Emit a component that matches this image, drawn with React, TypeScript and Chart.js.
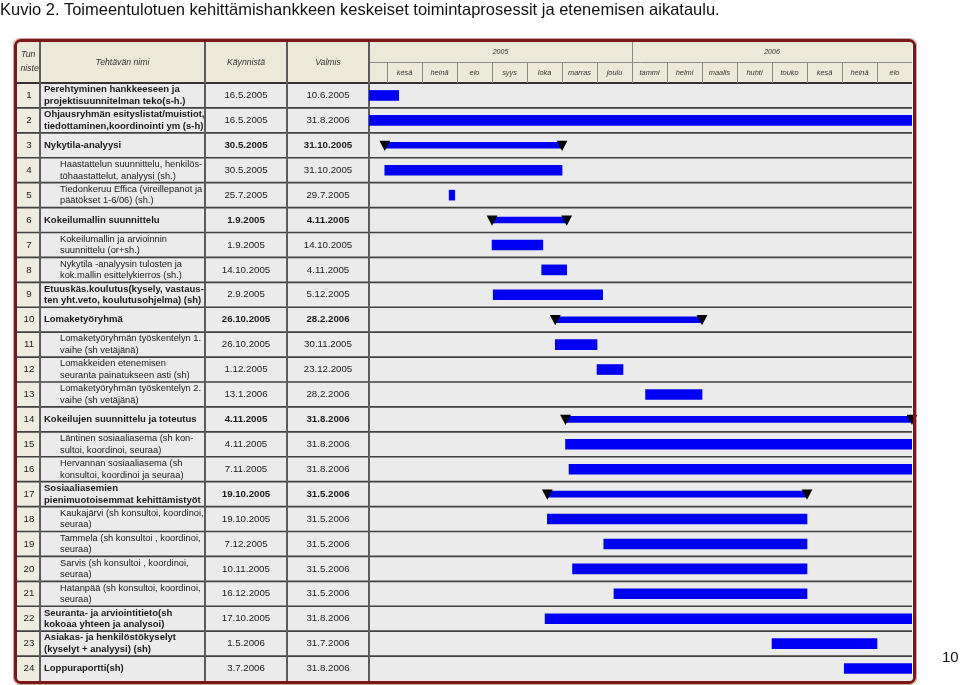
import React, { useEffect, useRef } from "react";
import { Chart, registerables } from "chart.js";

Chart.register(...registerables);

const FONT = '"Liberation Sans", Arial, Helvetica, sans-serif';

const titleText =
  "Kuvio 2. Toimeentulotuen kehittämishankkeen keskeiset toimintaprosessit ja etenemisen aikataulu.";
const pageNumber = "10";

const taskIds = [
  "1", "2", "3", "4", "5", "6", "7", "8", "9", "10", "11", "12",
  "13", "14", "15", "16", "17", "18", "19", "20", "21", "22", "23", "24",
];

const taskNames: string[][] = [
  ["Perehtyminen hankkeeseen ja", "projektisuunnitelman teko(s-h.)"],
  ["Ohjausryhmän esityslistat/muistiot,", "tiedottaminen,koordinointi ym (s-h)"],
  ["Nykytila-analyysi"],
  ["Haastattelun suunnittelu, henkilös-", "töhaastattelut, analyysi (sh.)"],
  ["Tiedonkeruu Effica (vireillepanot ja", "päätökset 1-6/06) (sh.)"],
  ["Kokeilumallin suunnittelu"],
  ["Kokeilumallin ja arvioinnin", "suunnittelu (or+sh.)"],
  ["Nykytila -analyysin tulosten ja", "kok.mallin esittelykierros (sh.)"],
  ["Etuuskäs.koulutus(kysely, vastaus-", "ten yht.veto, koulutusohjelma) (sh)"],
  ["Lomaketyöryhmä"],
  ["Lomaketyöryhmän työskentelyn 1.", "vaihe (sh vetäjänä)"],
  ["Lomakkeiden etenemisen", "seuranta painatukseen asti (sh)"],
  ["Lomaketyöryhmän työskentelyn 2.", "vaihe (sh vetäjänä)"],
  ["Kokeilujen suunnittelu ja toteutus"],
  ["Läntinen sosiaaliasema (sh kon-", "sultoi, koordinoi, seuraa)"],
  ["Hervannan sosiaaliasema (sh", "konsultoi, koordinoi ja seuraa)"],
  ["Sosiaaliasemien", "pienimuotoisemmat kehittämistyöt"],
  ["Kaukajärvi (sh konsultoi, koordinoi,", "seuraa)"],
  ["Tammela (sh konsultoi , koordinoi,", "seuraa)"],
  ["Sarvis (sh konsultoi , koordinoi,", "seuraa)"],
  ["Hatanpää (sh konsultoi, koordinoi,", "seuraa)"],
  ["Seuranta- ja arviointitieto(sh", "kokoaa yhteen ja analysoi)"],
  ["Asiakas- ja henkilöstökyselyt", "(kyselyt + analyysi) (sh)"],
  ["Loppuraportti(sh)"],
];

const startDates = [
  "16.5.2005", "16.5.2005", "30.5.2005", "30.5.2005", "25.7.2005", "1.9.2005",
  "1.9.2005", "14.10.2005", "2.9.2005", "26.10.2005", "26.10.2005", "1.12.2005",
  "13.1.2006", "4.11.2005", "4.11.2005", "7.11.2005", "19.10.2005", "19.10.2005",
  "7.12.2005", "10.11.2005", "16.12.2005", "17.10.2005", "1.5.2006", "3.7.2006",
];

const endDates = [
  "10.6.2005", "31.8.2006", "31.10.2005", "31.10.2005", "29.7.2005", "4.11.2005",
  "14.10.2005", "4.11.2005", "5.12.2005", "28.2.2006", "30.11.2005", "23.12.2005",
  "28.2.2006", "31.8.2006", "31.8.2006", "31.8.2006", "31.5.2006", "31.5.2006",
  "31.5.2006", "31.5.2006", "31.5.2006", "31.8.2006", "31.7.2006", "31.8.2006",
];

const summaryRows = [3, 6, 10, 14, 17];
const boldNameRows = [1, 2, 3, 6, 9, 10, 14, 17, 22, 23, 24];
const boldDateRows = [3, 6, 10, 14, 17];
const indentedRows = [4, 5, 7, 8, 11, 12, 13, 15, 16, 18, 19, 20, 21];

const columnHeaders = ["Tehtävän nimi", "Käynnistä", "Valmis"];
const idHeaderLines = ["Tun", "niste"];
const yearLabels = ["2005", "2006"];
const monthLabels = [
  "", "kesä", "heinä", "elo", "syys", "loka", "marras", "joulu",
  "tammi", "helmi", "maalis", "huhti", "touko", "kesä", "heinä", "elo",
];
const timelineStart = "16.5.2005";
const timelineEnd = "31.8.2006";
const baseYear = 2005;

function toMonthValue(date: string, inclusiveEnd: boolean): number {
  const [d, m, y] = date.split(".").map(Number);
  const days = new Date(y, m, 0).getDate();
  return (y - baseYear) * 12 + (m - 1) + (inclusiveEnd ? d : d - 1) / days;
}

const xMin = toMonthValue(timelineStart, false);
const xMax = toMonthValue(timelineEnd, true);
const spans = startDates.map((s, i) => [toMonthValue(s, false), toMonthValue(endDates[i], true)]);

const BLUE = "#0000f2";

const tablePlugin = {
  id: "ganttTable",
  beforeDraw(chart: any) {
    const { ctx, chartArea: ca, scales } = chart;
    const xs = scales.x;
    const ys = scales.y;
    const L = 17, C1 = 40, C2 = 205, C3 = 287;
    const G0 = ca.left, G1 = ca.right, HT = 42, HM = 62, HB = ca.top, BB = ca.bottom;
    ctx.save();
    ctx.fillStyle = "#ffffff";
    ctx.fillRect(0, 0, chart.width, chart.height);

    ctx.fillStyle = "#ece9d8";
    ctx.fillRect(L, HT, G1 - L, HB - HT);
    ctx.fillStyle = "#eeecdf";
    ctx.fillRect(L, HB, C1 - L, BB - HB);
    ctx.fillStyle = "#ebebeb";
    ctx.fillRect(C1, HB, G1 - C1, BB - HB);

    // row separators
    ctx.strokeStyle = "#404040";
    ctx.lineWidth = 1.6;
    for (let i = 0; i < taskIds.length - 1; i++) {
      const yb = (ys.getPixelForValue(i) + ys.getPixelForValue(i + 1)) / 2;
      ctx.beginPath();
      ctx.moveTo(L, yb);
      ctx.lineTo(G1, yb);
      ctx.stroke();
    }
    // header bottom
    ctx.strokeStyle = "#333333";
    ctx.lineWidth = 2;
    ctx.beginPath();
    ctx.moveTo(L, HB);
    ctx.lineTo(G1, HB);
    ctx.stroke();

    // gantt header lines
    ctx.strokeStyle = "#8a8a8a";
    ctx.lineWidth = 1;
    ctx.beginPath();
    ctx.moveTo(G0, HM + 0.5);
    ctx.lineTo(G1, HM + 0.5);
    ctx.stroke();
    const firstMonth = Math.floor(xMin);
    for (let k = firstMonth + 1; k < xMax; k++) {
      const x = Math.round(xs.getPixelForValue(k)) + 0.5;
      ctx.beginPath();
      ctx.moveTo(x, k % 12 === 0 ? HT : HM);
      ctx.lineTo(x, HB);
      ctx.stroke();
    }

    // left vertical lines
    ctx.strokeStyle = "#5c5c5c";
    ctx.lineWidth = 2;
    [C1, C2, C3, G0].forEach((x) => {
      ctx.beginPath();
      ctx.moveTo(x, HT);
      ctx.lineTo(x, BB);
      ctx.stroke();
    });

    // header texts
    ctx.fillStyle = "#333333";
    ctx.textBaseline = "middle";
    ctx.font = `italic 8.7px ${FONT}`;
    ctx.save();
    ctx.beginPath();
    ctx.rect(L, HT, C1 - L - 1, HB - HT);
    ctx.clip();
    ctx.textAlign = "left";
    ctx.fillText(idHeaderLines[0], 21, 55);
    ctx.fillText(idHeaderLines[1], 20.5, 68.5);
    ctx.restore();
    ctx.textAlign = "center";
    const hy = (HT + HB) / 2 + 0.5;
    ctx.fillText(columnHeaders[0], (C1 + C2) / 2, hy);
    ctx.fillText(columnHeaders[1], (C2 + C3) / 2, hy);
    ctx.fillText(columnHeaders[2], (C3 + G0) / 2, hy);

    ctx.font = `italic 7px ${FONT}`;
    const yearBounds = [xMin, 12, xMax];
    yearLabels.forEach((lab, i) => {
      const a = xs.getPixelForValue(yearBounds[i]);
      const b = xs.getPixelForValue(yearBounds[i + 1]);
      ctx.fillText(lab, (a + b) / 2, (HT + HM) / 2);
    });
    ctx.font = `italic 7.4px ${FONT}`;
    monthLabels.forEach((lab, i) => {
      const a = xs.getPixelForValue(Math.max(xMin, firstMonth + i));
      const b = xs.getPixelForValue(Math.min(xMax, firstMonth + i + 1));
      if (lab) ctx.fillText(lab, (a + b) / 2, (HM + HB) / 2 + 0.5);
    });

    // body texts
    taskIds.forEach((id, i) => {
      const row = i + 1;
      const yc = ys.getPixelForValue(i);
      ctx.fillStyle = "#1a1a1a";
      ctx.textAlign = "center";
      ctx.font = `9.7px ${FONT}`;
      ctx.fillText(id, (L + C1) / 2 + 0.5, yc);

      const bold = boldNameRows.includes(row);
      ctx.font = bold ? `bold 9.5px ${FONT}` : `9.3px ${FONT}`;
      ctx.textAlign = "left";
      const nx = indentedRows.includes(row) ? 60 : 44;
      const lines = taskNames[i];
      if (lines.length === 1) {
        ctx.fillText(lines[0], nx, yc);
      } else {
        ctx.fillText(lines[0], nx, yc - 5.8);
        ctx.fillText(lines[1], nx, yc + 5.8);
      }

      ctx.textAlign = "center";
      ctx.font = boldDateRows.includes(row) ? `bold 9.7px ${FONT}` : `9.7px ${FONT}`;
      ctx.fillText(startDates[i], (C2 + C3) / 2, yc);
      ctx.fillText(endDates[i], (C3 + G0) / 2, yc);
    });
    ctx.restore();
  },
  afterDatasetsDraw(chart: any) {
    const { ctx, scales } = chart;
    const xs = scales.x;
    const ys = scales.y;
    ctx.save();
    ctx.fillStyle = "#000000";
    summaryRows.forEach((row) => {
      const i = row - 1;
      const yc = ys.getPixelForValue(i);
      spans[i].forEach((v) => {
        const x = xs.getPixelForValue(v);
        ctx.beginPath();
        ctx.moveTo(x - 5.4, yc - 4.6);
        ctx.lineTo(x + 5.4, yc - 4.6);
        ctx.lineTo(x, yc + 5.6);
        ctx.closePath();
        ctx.fill();
      });
    });
    ctx.restore();
  },
  afterDraw(chart: any) {
    const { ctx } = chart;
    ctx.save();
    ctx.strokeStyle = "#7b1717";
    ctx.lineWidth = 3;
    ctx.beginPath();
    ctx.roundRect(15.5, 40.5, 899, 642, 5);
    ctx.stroke();
    ctx.strokeStyle = "rgba(150,60,60,0.45)";
    ctx.lineWidth = 1;
    ctx.beginPath();
    ctx.roundRect(13.5, 38.5, 903, 646, 6);
    ctx.stroke();
    ctx.restore();
  },
};

export default function App() {
  const ref = useRef<HTMLCanvasElement | null>(null);
  useEffect(() => {
    if (!ref.current) return;
    const chart = new Chart(ref.current, {
      type: "bar",
      data: {
        labels: taskIds,
        datasets: [
          {
            label: "Tehtävät",
            data: spans.map((s, i) => (summaryRows.includes(i + 1) ? null : s)) as any,
            backgroundColor: BLUE,
            borderWidth: 0,
            barThickness: 10,
            grouped: false,
          } as any,
          {
            label: "Yhteenvedot",
            data: spans.map((s, i) => (summaryRows.includes(i + 1) ? s : null)) as any,
            backgroundColor: BLUE,
            borderWidth: 0,
            barThickness: 6,
            grouped: false,
          } as any,
        ],
      },
      options: {
        indexAxis: "y",
        responsive: false,
        maintainAspectRatio: false,
        animation: false,
        layout: { padding: { left: 369, right: 48, top: 83, bottom: 4 } },
        scales: {
          x: { type: "linear", min: xMin, max: xMax, display: false },
          y: { type: "category", display: false, offset: true },
        },
        plugins: { legend: { display: false }, tooltip: { enabled: false } },
      },
      plugins: [tablePlugin],
    });
    return () => chart.destroy();
  }, []);

  return (
    <div
      style={{
        position: "absolute",
        left: 0,
        top: 0,
        width: 960,
        height: 685,
        background: "#ffffff",
        overflow: "hidden",
      }}
    >
      <canvas
        ref={ref}
        width={960}
        height={685}
        style={{ position: "absolute", left: 0, top: 0, width: 960, height: 685 }}
      />
      <div
        style={{
          position: "absolute",
          left: 0,
          top: 0,
          font: `16.5px ${FONT}`,
          color: "#111",
          whiteSpace: "nowrap",
        }}
      >
        {titleText}
      </div>
      <div
        style={{
          position: "absolute",
          left: 942,
          top: 648,
          font: `15px ${FONT}`,
          color: "#111",
        }}
      >
        {pageNumber}
      </div>
    </div>
  );
}
